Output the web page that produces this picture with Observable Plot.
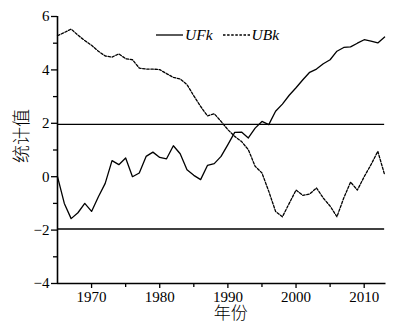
<!DOCTYPE html>
<html>
<head>
<meta charset="utf-8">
<script src="https://cdn.jsdelivr.net/npm/d3@7"></script>
<script src="https://cdn.jsdelivr.net/npm/@observablehq/plot@0.6"></script>
<style>
  html, body { margin: 0; padding: 0; background: #fff; }
  #wrap { position: relative; width: 407px; height: 330px; font-family: "Liberation Serif", "Noto Sans CJK SC", serif; }
  #legend { position: absolute; left: 156px; top: 25px; height: 20px; display: flex; align-items: center; font-family: "Liberation Serif", serif; font-style: italic; font-size: 15.5px; color: #000; }
  #legend svg { display: block; }
</style>
</head>
<body>
<div id="wrap">
  <div id="legend">
    <svg width="27" height="4"><line x1="0" x2="27" y1="2" y2="2" stroke="#000" stroke-width="1.3"/></svg>
    <span style="margin-left:2px">UFk</span>
    <svg width="27" height="4" style="margin-left:10px"><line x1="0" x2="27" y1="2" y2="2" stroke="#000" stroke-width="1.3" stroke-dasharray="2.5,1.6"/></svg>
    <span style="margin-left:2px">UBk</span>
  </div>
</div>
<script>
const years = [1965,1966,1967,1968,1969,1970,1971,1972,1973,1974,1975,1976,1977,1978,1979,1980,1981,1982,1983,1984,1985,1986,1987,1988,1989,1990,1991,1992,1993,1994,1995,1996,1997,1998,1999,2000,2001,2002,2003,2004,2005,2006,2007,2008,2009,2010,2011,2012,2013];
const UFk = [0,-1.0,-1.57,-1.35,-1.0,-1.3,-0.75,-0.25,0.6,0.45,0.7,0.0,0.14,0.76,0.92,0.72,0.67,1.16,0.86,0.26,0.05,-0.11,0.42,0.49,0.76,1.2,1.66,1.67,1.45,1.82,2.07,1.95,2.45,2.72,3.05,3.33,3.63,3.91,4.03,4.23,4.38,4.7,4.84,4.86,5.0,5.13,5.08,5.01,5.23];
const UBk = [5.28,5.4,5.53,5.3,5.1,4.92,4.7,4.52,4.48,4.6,4.42,4.38,4.07,4.03,4.03,4.01,3.86,3.72,3.66,3.45,3.03,2.63,2.28,2.36,2.07,1.76,1.51,1.32,1.01,0.39,0.14,-0.55,-1.3,-1.5,-1.0,-0.5,-0.7,-0.65,-0.42,-0.8,-1.1,-1.5,-0.8,-0.2,-0.5,0.0,0.45,0.95,0.07];
const yMajor = [-4,-2,0,2,4,6];
const yMinor = [-3,-1,1,3,5];
const xMajor = [1970,1980,1990,2000,2010];
const xMinor = [1975,1985,1995,2005];
const critical = [1.96,-1.96];
const xLabel = "年份";
const yLabel = "统计值";

const uf = years.map((y,i) => ({year: y, v: UFk[i]}));
const ub = years.map((y,i) => ({year: y, v: UBk[i]}));

const chart = Plot.plot({
  width: 407,
  height: 330,
  marginLeft: 57,
  marginRight: 21.5,
  marginTop: 16,
  marginBottom: 47,
  x: {domain: [1965, 2013.2]},
  y: {domain: [-4, 6]},
  style: {fontFamily: '"Liberation Serif", "Noto Sans CJK SC", serif', fontSize: "15px", background: "white", color: "black", overflow: "visible"},
  marks: [
    Plot.axisY({ticks: yMajor, tickSize: 6, tickPadding: 2, label: null, stroke: "black", strokeWidth: 1.3, fontSize: 15}),
    Plot.axisY({ticks: yMinor, tickSize: 4, tickFormat: () => "", label: null, stroke: "black", strokeWidth: 1.3}),
    Plot.axisX({ticks: xMajor, tickSize: 5, tickPadding: 3, tickFormat: d => String(d), label: null, stroke: "black", strokeWidth: 1.3, fontSize: 15}),
    Plot.axisX({ticks: xMinor, tickSize: 4, tickFormat: () => "", label: null, stroke: "black", strokeWidth: 1.3}),
    Plot.ruleX([1965], {y1: -4, y2: 6, stroke: "black", strokeWidth: 1.6}),
    Plot.ruleY([-4], {x1: 1965, x2: 2013.2, stroke: "black", strokeWidth: 1.6}),
    Plot.ruleY(critical, {x1: 1965, x2: 2013, stroke: "black", strokeWidth: 1.4}),
    Plot.line(ub, {x: "year", y: "v", stroke: "black", strokeWidth: 1.3, strokeDasharray: "2.5,1.6"}),
    Plot.line(uf, {x: "year", y: "v", stroke: "black", strokeWidth: 1.3}),
    Plot.text([yLabel], {text: d => d, frameAnchor: "left", dx: -35, dy: 13, rotate: -90, fontSize: 18, fontWeight: 300, fill: "black"}),
    Plot.text([xLabel], {text: d => d, frameAnchor: "bottom", dx: 9, dy: 35, fontSize: 17, fontWeight: 300, fill: "black"})
  ]
});
document.getElementById("wrap").prepend(chart);
</script>
</body>
</html>
